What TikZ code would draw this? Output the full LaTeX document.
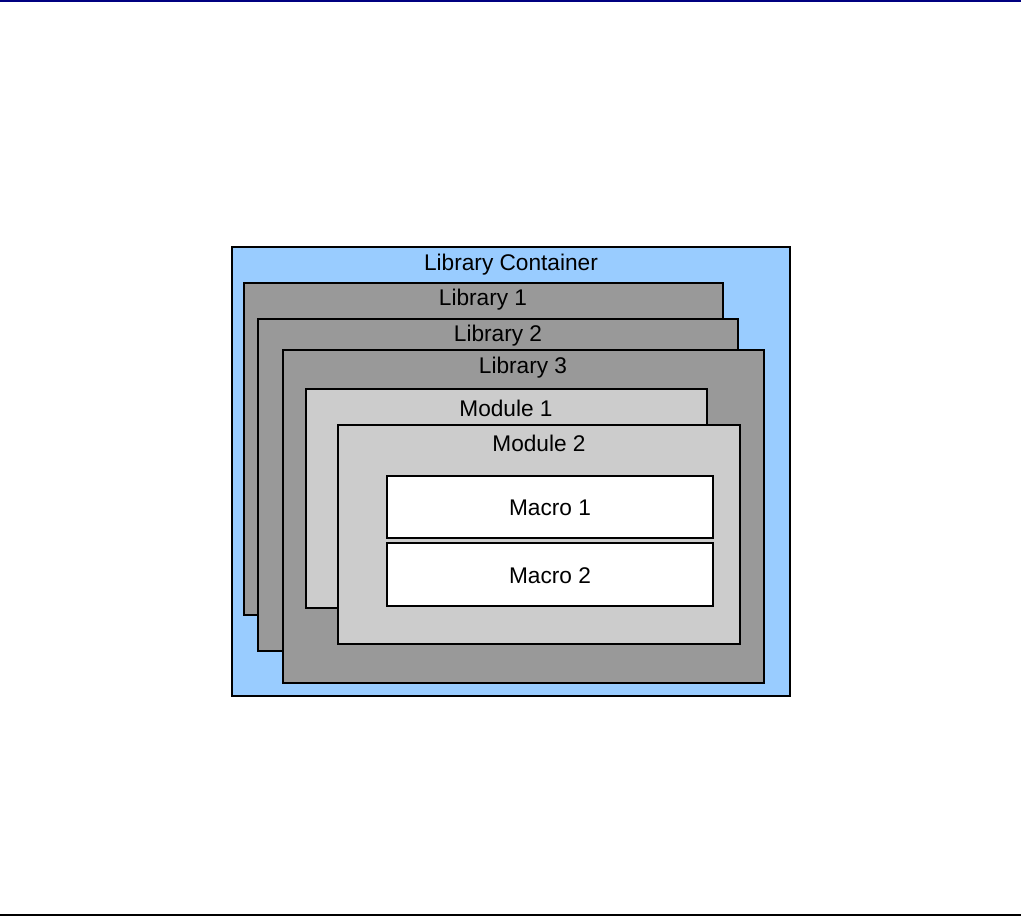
\documentclass[tikz,border=0pt]{standalone}
\usepackage{fontspec}
\setmainfont{Liberation Sans}
\usepackage{xcolor}
\usepackage{tikz}
\usetikzlibrary{positioning}
\definecolor{ContainerBlue}{RGB}{153,204,255}
\definecolor{LibGray}{RGB}{153,153,153}
\definecolor{ModGray}{RGB}{204,204,204}
\definecolor{RuleNavy}{RGB}{0,0,128}

\begin{document}
\begin{tikzpicture}[x=0.75pt, y=-0.75pt,
		box/.style={draw=black, line width=0.8pt},
		lbl/.style={inner sep=0pt, font=\fontsize{17}{20}\selectfont}]
		\useasboundingbox (0,0) rectangle (1021,916);
		
		% page rules
		\fill[RuleNavy] (0,0) rectangle (1021,2.5);
		\fill[black] (0,914) rectangle (1021,915.5);
		
		% container and libraries
		\draw[box, fill=ContainerBlue] (232,247) rectangle (790,696);
		\draw[box, fill=LibGray] (244,283) rectangle (723,615);
		\draw[box, fill=LibGray] (258,319) rectangle (738,651);
		\draw[box, fill=LibGray] (283,350) rectangle (764,683);
		
		% modules
		\draw[box, fill=ModGray] (306,389) rectangle (707,608);
		\draw[box, fill=ModGray] (338,425) rectangle (740,644);
		
		% macros
		\draw[box, fill=white] (387,476) rectangle (713,538);
		\draw[box, fill=white] (387,543) rectangle (713,606);
		
		\node[lbl] (container) at (511,265) {Library Container};
		\node[lbl] (lib1) at (483,300) {Library 1};
		\node[lbl] (lib2) at (498,336) {Library 2};
		\node[lbl] (lib3) at (523,368) {Library 3};
		\node[lbl] (mod1) at (506,408) {Module 1};
		\node[lbl] (mod2) at (539,443) {Module 2};
		\node[lbl] (mac1) at (550,508) {Macro 1};
		\node[lbl] (mac2) at (550,576) {Macro 2};
	\end{tikzpicture}
\end{document}
